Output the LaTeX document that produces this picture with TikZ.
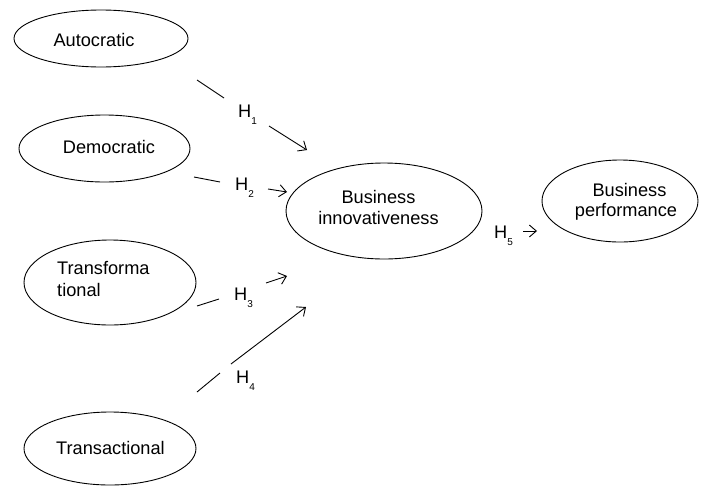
\documentclass[tikz,border=0pt]{standalone}
\usepackage{fontspec}
\setmainfont{Liberation Sans}
\usetikzlibrary{arrows.meta,shapes.geometric}
\newcommand{\hlab}[1]{H\raisebox{-7pt}{\fontsize{10}{10}\selectfont #1}}
\begin{document}
\begin{tikzpicture}[x=1pt,y=-1pt,
  ell/.style={draw,ellipse,line width=0.9pt,inner sep=0pt},
  txt/.style={font=\fontsize{18.2}{22}\selectfont,inner sep=0pt},
  hyp/.style={font=\fontsize{18.2}{22}\selectfont,inner sep=0pt,anchor=base west},
  seg/.style={line width=0.9pt},
  arr/.style={line width=0.9pt,-{Straight Barb[length=7pt,width=12pt,line width=0.9pt]}}]
\useasboundingbox (0,0) rectangle (701,485);
% ellipses
\node[ell,minimum width=174,minimum height=57] (aut) at (101,38.5) {};
\node[ell,minimum width=171,minimum height=67] (dem) at (104.5,148.5) {};
\node[ell,minimum width=172,minimum height=85] (trf) at (110,282.5) {};
\node[ell,minimum width=172,minimum height=73] (trn) at (110,448.5) {};
\node[ell,minimum width=196,minimum height=96] (inn) at (384,211) {};
\node[ell,minimum width=156,minimum height=82] (perf) at (620,201) {};
% texts
\node[txt] (autT) at (94,40) {Autocratic};
\node[txt] (demT) at (109,147) {Democratic};
\node[txt,anchor=west] (trfT1) at (57,268) {Transforma};
\node[txt,anchor=west] (trfT2) at (57,290) {tional};
\node[txt] (trnT) at (110.5,448) {Transactional};
\node[txt] (innT1) at (378.5,197) {Business};
\node[txt] (innT2) at (378.5,218) {innovativeness};
\node[txt] (perfT1) at (629.5,190) {Business};
\node[txt] (perfT2) at (626,212) {performance};
% hypothesis labels
\node[hyp] (h1) at (238,117) {\hlab{1}};
\node[hyp] (h2) at (235,190) {\hlab{2}};
\node[hyp] (h3) at (234,300) {\hlab{3}};
\node[hyp] (h4) at (236,383) {\hlab{4}};
\node[hyp] (h5) at (494,238) {\hlab{5}};
% connector points
\coordinate (a1) at (197,80);  \coordinate (a2) at (224,98);
\coordinate (a3) at (269,126); \coordinate (a4) at (307,150);
\coordinate (b1) at (194,177); \coordinate (b2) at (220,182);
\coordinate (b3) at (268,189); \coordinate (b4) at (287,192);
\coordinate (c1) at (197,306); \coordinate (c2) at (219,299);
\coordinate (c3) at (266,283); \coordinate (c4) at (287,276);
\coordinate (d1) at (197,392); \coordinate (d2) at (220,373);
\coordinate (d3) at (231,364); \coordinate (d4) at (306,307);
\coordinate (e3) at (523,231); \coordinate (e4) at (537,231);
\draw[seg] (a1) -- (a2);
\draw[arr] (a3) -- (a4);
\draw[seg] (b1) -- (b2);
\draw[arr] (b3) -- (b4);
\draw[seg] (c1) -- (c2);
\draw[arr] (c3) -- (c4);
\draw[seg] (d1) -- (d2);
\draw[arr] (d3) -- (d4);
\draw[arr] (e3) -- (e4);
\end{tikzpicture}
\end{document}
